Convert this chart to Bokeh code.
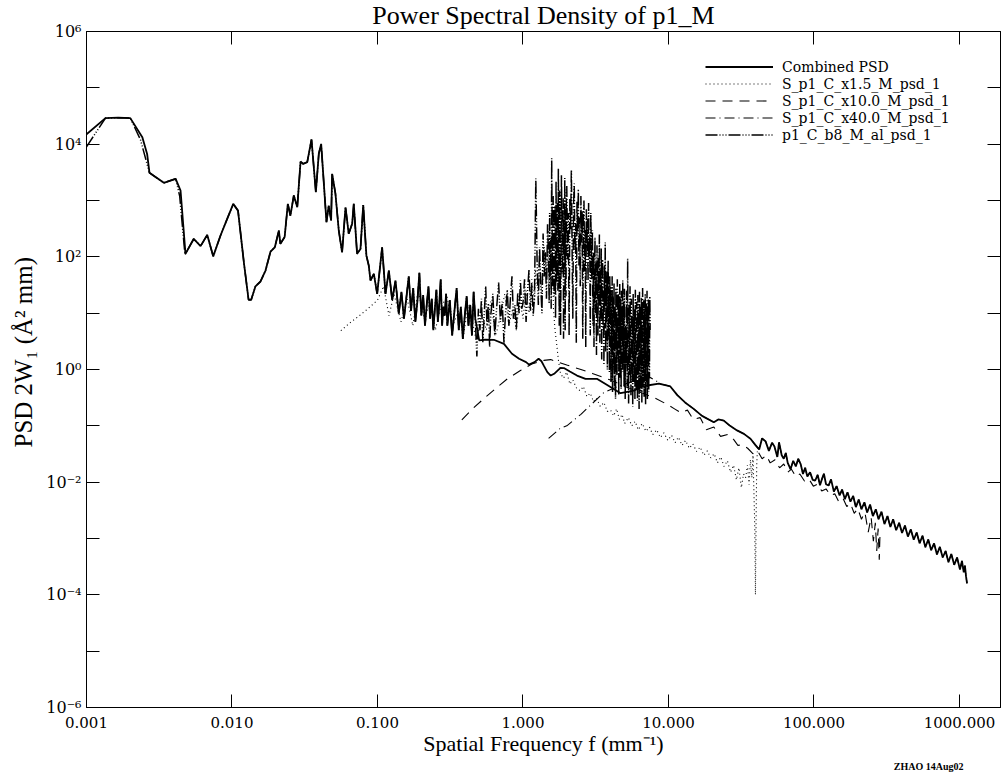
from bokeh.plotting import figure
from bokeh.models import LogAxis, FixedTicker, Legend, LegendItem, Title
from bokeh.embed import file_html
from bokeh.resources import INLINE

# ---------------- data ----------------
x_ticks = [0.001, 0.01, 0.1, 1, 10, 100, 1000]
x_tick_labels = ["0.001", "0.010", "0.100", "1.000", "10.000", "100.000", "1000.000"]
y_ticks = [1e-6, 1e-5, 1e-4, 1e-3, 1e-2, 1e-1, 1e0, 1e1, 1e2, 1e3, 1e4, 1e5, 1e6]
y_tick_labels = ["10⁻⁶", "", "10⁻⁴", "", "10⁻²", "", "10⁰", "", "10²", "", "10⁴", "", "10⁶"]

# p1_C_b8_M_al_psd_1 (long, low-resolution profile)
b8_f = [0.001, 0.00135, 0.00165, 0.002, 0.00235, 0.00255, 0.00271, 0.0034, 0.0041, 0.00437,
        0.00475, 0.00546, 0.00608, 0.00676, 0.00743, 0.00834, 0.00927, 0.0102, 0.011, 0.0121,
        0.0130, 0.01355, 0.0145, 0.0157, 0.0170, 0.0184, 0.0197, 0.0210, 0.0215, 0.0230,
        0.0242, 0.0252, 0.0266, 0.0281, 0.0296, 0.0308, 0.0329, 0.0352, 0.0377, 0.0395,
        0.0410, 0.0446, 0.0462, 0.0480, 0.0488, 0.0514, 0.0542, 0.0571, 0.0603, 0.0634,
        0.0670, 0.0687, 0.0724, 0.0764, 0.0798, 0.0839, 0.0871, 0.0895, 0.0944, 0.0995,
        0.1076, 0.1135, 0.1197, 0.1262, 0.133, 0.140,
        0.146, 0.152, 0.158, 0.164, 0.170, 0.176, 0.182, 0.188, 0.194, 0.200,
        0.206, 0.212, 0.218, 0.224, 0.230, 0.236, 0.242, 0.248, 0.254, 0.260,
        0.266, 0.272, 0.278, 0.284, 0.290, 0.296,
        0.302, 0.314, 0.326, 0.338, 0.350, 0.362, 0.374, 0.386, 0.398, 0.410,
        0.422, 0.434, 0.446, 0.458, 0.470, 0.482, 0.494, 0.506, 0.518, 0.530,
        0.542, 0.554, 0.566, 0.578, 0.590,
        0.60, 0.62, 0.64, 0.66, 0.68, 0.70, 0.72, 0.74, 0.76, 0.78,
        0.80, 0.82, 0.84, 0.86, 0.88, 0.90, 0.92, 0.94, 0.96, 0.98,
        1.000, 1.025, 1.050, 1.075, 1.100, 1.125, 1.150, 1.175, 1.200, 1.225,
        1.250, 1.275, 1.300, 1.325, 1.350, 1.375, 1.400, 1.425, 1.450, 1.475,
        1.5000, 1.5125, 1.5250, 1.5375, 1.5500, 1.5625, 1.5750, 1.5875, 1.6000, 1.6125,
        1.6250, 1.6375, 1.6500, 1.6625, 1.6750, 1.6875, 1.7000, 1.7125, 1.7250, 1.7375,
        1.7500, 1.7625, 1.7750, 1.7875, 1.8000, 1.8125, 1.8250, 1.8375, 1.8500, 1.8625,
        1.8750, 1.8875, 1.9000, 1.9125, 1.9250, 1.9375, 1.9500, 1.9625, 1.9750, 1.9875,
        2.000, 2.025, 2.050, 2.075, 2.100, 2.125, 2.150, 2.175, 2.200, 2.225,
        2.250, 2.275, 2.300, 2.325, 2.350, 2.375, 2.400, 2.425, 2.450, 2.475,
        2.500, 2.525, 2.550, 2.575, 2.600, 2.625, 2.650, 2.675, 2.700, 2.725,
        2.750, 2.775, 2.800, 2.825, 2.850, 2.875, 2.900, 2.925, 2.950, 2.975,
        3.000, 3.025, 3.050, 3.075, 3.100, 3.125, 3.150, 3.175, 3.200, 3.225,
        3.250, 3.275, 3.300, 3.325, 3.350, 3.375, 3.400, 3.425, 3.450, 3.475,
        3.500, 3.525, 3.550, 3.575, 3.600, 3.625, 3.650, 3.675, 3.700, 3.725,
        3.750, 3.775, 3.800, 3.825, 3.850, 3.875, 3.900, 3.925, 3.950, 3.975,
        4.000, 4.025, 4.050, 4.075, 4.100, 4.125, 4.150, 4.175, 4.200, 4.225,
        4.250, 4.275, 4.300, 4.325, 4.350, 4.375, 4.400, 4.425, 4.450, 4.475,
        4.500, 4.525, 4.550, 4.575, 4.600, 4.625, 4.650, 4.675, 4.700, 4.725,
        4.750, 4.775, 4.800, 4.825, 4.850, 4.875, 4.900, 4.925, 4.950, 4.975,
        5.00, 5.04, 5.08, 5.12, 5.16, 5.20, 5.24, 5.28, 5.32, 5.36,
        5.40, 5.44, 5.48, 5.52, 5.56, 5.60, 5.64, 5.68, 5.72, 5.76,
        5.80, 5.84, 5.88, 5.92, 5.96, 6.00, 6.04, 6.08, 6.12, 6.16,
        6.20, 6.24, 6.28, 6.32, 6.36, 6.40, 6.44, 6.48, 6.52, 6.56,
        6.60, 6.64, 6.68, 6.72, 6.76, 6.80, 6.84, 6.88, 6.92, 6.96,
        7.00, 7.04, 7.08, 7.12, 7.16, 7.20, 7.24, 7.28, 7.32, 7.36,
        7.40, 7.44, 7.48]
b8_psd = [9000, 29000, 29500, 29000, 12000, 5500, 3100, 2060, 2430, 1200,
          110, 209, 155, 245, 102, 239, 473, 871, 661, 75,
          17.3, 17.3, 30, 36.5, 57, 124, 148, 293, 170, 224,
          871, 537, 1230, 759, 4920, 4470, 4790, 12100, 1400, 6760,
          10100, 412, 813, 442, 2980, 1320, 293, 120, 759, 257,
          389, 871, 113, 138, 832, 105, 70, 38, 50, 22,
          148, 22, 57, 17, 38, 9.8,
          24, 8, 19, 45, 11, 28, 7, 16, 52, 9,
          21, 6, 14, 30, 8, 18, 5, 12, 26, 7,
          15, 40, 6, 13, 9, 22,
          6, 17, 4, 11, 28, 5, 13, 3.5, 9, 20,
          6, 14, 4, 24, 8, 1.7, 12, 5, 18, 3,
          10, 30, 6, 15, 2.5,
          9, 22, 4, 13, 35, 7, 16, 3, 11, 26,
          6, 19, 45, 8, 14, 5, 23, 10, 38, 12,
          15, 40, 7, 25, 60, 11, 33, 9, 20, 2450,
          85, 14, 150, 30, 10, 260, 45, 120, 18, 380,
          90, 15, 600, 40, 200, 12, 5600, 250, 30, 1200,
          60, 20, 800, 180, 8, 2200, 35, 300, 900, 25,
          3700, 150, 6, 1500, 400, 4, 70, 2800, 600, 50,
          220, 1100, 3.5, 450, 90, 2500, 5, 700, 20, 1300,
          1800, 90, 600, 4, 1100, 300, 3500, 150, 8, 800,
          2000, 120, 400, 3, 950, 260, 1600, 70, 500, 30,
          1200, 180, 650, 3.5, 400, 1000, 55, 300, 2.5, 700,
          140, 480, 35, 900, 90, 250, 4, 600, 110, 40,
          300, 6, 120, 2.5, 45, 220, 10, 80, 1.8, 160,
          30, 4, 95, 15, 250, 3, 60, 8, 140, 1.5,
          40, 90, 5, 25, 1.2, 70, 12, 180, 2, 35,
          7, 55, 1, 20, 85, 3.5, 30, 0.9, 45, 10,
          30, 0.6, 12, 2, 45, 0.4, 8, 20, 1, 35,
          0.5, 5, 15, 0.3, 28, 3, 10, 0.8, 40, 1.5,
          6, 22, 0.35, 14, 2.5, 33, 0.7, 9, 18, 0.45,
          25, 4, 11, 0.9, 38, 1.2, 7, 16, 0.5, 27,
          20, 0.3, 6, 1.2, 25, 0.5, 93, 2, 0.25, 14,
          0.8, 30, 3, 0.35, 18, 1, 9, 0.22, 22, 0.6,
          4, 12, 0.3, 26, 1.5, 0.45, 16, 5, 0.28, 21,
          0.7, 8, 0.2, 24, 2.5, 0.4, 13, 0.9, 19, 0.26,
          7, 28, 0.5, 3, 17, 0.33, 11, 1.1, 22, 0.24,
          6, 15, 0.6, 25, 0.3, 9, 2, 18, 0.4, 12,
          0.7, 20, 5]

# S_p1_C_x1.5_M_psd_1
x15_f = [0.056, 0.065, 0.075, 0.086, 0.100, 0.110, 0.120, 0.130, 0.145, 0.160,
         0.175, 0.190, 0.210, 0.230, 0.250, 0.270, 0.300, 0.330, 0.360, 0.390,
         0.420, 0.450, 0.480, 0.520, 0.560, 0.600, 0.650, 0.700, 0.750, 0.800,
         0.850, 0.900, 0.950, 1.000, 1.050, 1.100, 1.150, 1.200, 1.220, 1.250,
         1.300, 1.350, 1.400, 1.450, 1.500, 1.550, 1.580, 1.620, 1.660, 1.700,
         1.750, 1.810, 1.900, 2.000, 2.100, 2.200, 2.350, 2.480, 2.600, 2.750,
         2.900, 3.050, 3.200, 3.400, 3.600, 3.800, 4.000, 4.200, 4.400, 4.600,
         4.800, 5.000, 5.300, 5.600, 5.900, 6.200, 6.600, 7.000, 7.400, 7.800,
         8.3, 8.8, 9.3, 9.9, 10.5, 11.1, 11.7, 12.4, 13.1, 13.9,
         14.7, 15.6, 16.5, 17.5, 18.5, 19.5, 20.6, 21.7, 22.9, 24.1,
         25.4, 26.7, 28.0, 29.3, 30.5, 31.7, 32.8, 33.9, 34.9, 35.8,
         36.6, 37.4, 38.1, 38.7, 39.2, 39.6, 40.0, 40.4, 40.8]
x15_psd = [4.9, 6.8, 9.0, 12, 17, 30, 9, 22, 7, 18,
           6, 25, 8, 15, 5, 12, 20, 6, 11, 4,
           14, 7, 3, 10, 5, 16, 4, 9, 22, 6,
           12, 5, 18, 8, 25, 10, 40, 15, 60, 30,
           90, 20, 150, 40, 300, 60, 200, 12, 5, 3,
           1.5, 0.85, 0.7, 0.9, 0.55, 0.65, 0.45, 0.42, 0.5, 0.33,
           0.38, 0.27, 0.31, 0.22, 0.26, 0.18, 0.19, 0.15, 0.2, 0.13,
           0.16, 0.11, 0.14, 0.1, 0.12, 0.085, 0.11, 0.08, 0.095, 0.07,
           0.085, 0.062, 0.075, 0.055, 0.068, 0.05, 0.063, 0.045, 0.055, 0.04,
           0.048, 0.035, 0.042, 0.03, 0.036, 0.027, 0.032, 0.022, 0.028, 0.019,
           0.024, 0.015, 0.02, 0.011, 0.018, 0.008, 0.014, 0.012, 0.02, 0.009,
           0.025, 0.012, 0.03, 0.006, 0.0015, 0.0001, 0.002, 0.02, 0.035]

# S_p1_C_x10.0_M_psd_1
x10_f = [0.38, 0.45, 0.55, 0.65, 0.78, 0.96, 1.15, 1.39, 1.55, 1.75,
         2.0, 2.5, 3.0, 4.0, 5.0, 6.0, 7.0, 8.1, 9.8, 11.0,
         12.2, 13.5, 14.8, 16.5, 18.2, 20.5, 22.8, 25.5, 28.1, 30.0,
         32.0, 35.0, 38.0, 41.0, 44.0, 47.0, 50.0, 54.0, 58.0, 62.0,
         66.0, 70.0, 75.0, 80.0, 86.0, 92.0, 99.0, 106, 113, 121,
         130, 139, 148, 158, 168, 178, 189, 200, 212, 224,
         236, 247, 256, 264, 270, 276, 281, 284]
x10_psd = [0.128, 0.2, 0.32, 0.46, 0.68, 0.96, 1.25, 1.45, 1.5, 1.35,
           1.2, 1.0, 0.85, 0.65, 0.5, 0.42, 0.36, 0.31, 0.24, 0.2,
           0.17, 0.19, 0.13, 0.14, 0.085, 0.095, 0.065, 0.07, 0.057, 0.045,
           0.046, 0.04, 0.032, 0.036, 0.026, 0.03, 0.022, 0.025, 0.018, 0.021,
           0.015, 0.017, 0.0125, 0.014, 0.0105, 0.0115, 0.0085, 0.0092, 0.007, 0.0076,
           0.0058, 0.0062, 0.0045, 0.0052, 0.0037, 0.0042, 0.0028, 0.0034, 0.0022, 0.0029,
           0.0013, 0.0024, 0.0009, 0.0019, 0.0006, 0.0015, 0.00042, 0.0011]

# Combined PSD: its own start, then the smooth/high-frequency part
comb_head_f = [0.001, 0.00135, 0.00165, 0.002, 0.00242, 0.00261, 0.00271, 0.0034, 0.0041, 0.00443, 0.00479]
comb_head_psd = [15000, 29000, 29500, 29000, 13300, 6700, 3100, 2060, 2430, 1500, 113]
comb_tail_f = [0.50, 0.55, 0.63, 0.74, 0.84, 0.94, 1.05, 1.10, 1.20, 1.28,
               1.34, 1.39, 1.47, 1.55, 1.65, 1.81, 1.91, 2.10, 2.35, 2.69,
               3.24, 3.79, 4.20, 4.68, 5.20, 5.78, 6.40, 7.14, 8.59, 9.50,
               10.3, 11.5, 13.0, 14.9, 17.0, 20.5, 22.0, 24.0, 26.5, 29.6,
               33.0, 36.6, 39.5, 42.0, 44.0, 46.5, 49.0, 51.5, 53.5, 56.0,
               57.5, 60.0, 62.0, 64.0, 66.0, 69.0, 72.0, 75.0, 78.0, 81.0,
               84.0, 87.0, 90.0, 94.0, 98.0, 102, 106, 110, 114, 117,
               121, 126, 131, 137, 143, 150, 156, 163, 170, 178,
               186, 194, 203, 212, 222, 232, 243, 254, 266, 278,
               291, 305, 320, 335, 350, 367, 385, 403, 422, 442,
               463, 485, 508, 532, 557, 583, 610, 639, 669, 700,
               733, 767, 803, 840, 879, 920, 963, 1008, 1040, 1070,
               1090, 1110, 1127]
comb_tail_psd = [3.3, 3.4, 3.37, 2.85, 1.9, 1.55, 1.35, 1.22, 1.35, 1.55,
                 1.4, 1.17, 0.9, 0.78, 0.85, 1.07, 1.06, 0.92, 0.78, 0.68,
                 0.68, 0.53, 0.45, 0.38, 0.40, 0.42, 0.48, 0.52, 0.56, 0.53,
                 0.50, 0.35, 0.26, 0.20, 0.15, 0.116, 0.13, 0.124, 0.10, 0.083,
                 0.072, 0.059, 0.046, 0.038, 0.06, 0.053, 0.036, 0.05, 0.043, 0.028,
                 0.051, 0.03, 0.026, 0.033, 0.022, 0.017, 0.024, 0.019, 0.026, 0.021,
                 0.014, 0.018, 0.0126, 0.015, 0.011, 0.0107, 0.0135, 0.0088, 0.0118, 0.0141,
                 0.0092, 0.0087, 0.0112, 0.0068, 0.0085, 0.0058, 0.0074, 0.0050, 0.0066, 0.0045,
                 0.0057, 0.0036, 0.0049, 0.0033, 0.0044, 0.0029, 0.0040, 0.0025, 0.0033, 0.0022,
                 0.0030, 0.0018, 0.0025, 0.0016, 0.0022, 0.0014, 0.0019, 0.00125, 0.0017, 0.00108,
                 0.00145, 0.00095, 0.00128, 0.00082, 0.00112, 0.00070, 0.00096, 0.00062, 0.00082, 0.00052,
                 0.00071, 0.00046, 0.00060, 0.00038, 0.00053, 0.00034, 0.00046, 0.00028, 0.00040, 0.00025,
                 0.00033, 0.00021, 0.00016]

# S_p1_C_x40.0_M_psd_1 : rising start, then runs under the combined curve
x40_head_f = [1.5, 1.8, 2.0, 2.5, 3.0, 3.6, 4.5, 5.5, 6.5, 7.5, 8.3]
x40_head_psd = [0.06, 0.09, 0.1, 0.16, 0.25, 0.39, 0.5, 0.6, 0.68, 0.72, 0.62]

# assemble series from the read values
comb_mid = [(f, v) for f, v in zip(b8_f, b8_psd) if 0.005 < f <= 0.47]
comb_f = comb_head_f + [f for f, _ in comb_mid] + comb_tail_f
comb_psd = comb_head_psd + [v for _, v in comb_mid] + comb_tail_psd
x40_tail = [(f, v) for f, v in zip(comb_tail_f, comb_tail_psd) if f >= 8.5]
x40_f = x40_head_f + [f for f, _ in x40_tail]
x40_psd = x40_head_psd + [v for _, v in x40_tail]

# ---------------- figure ----------------
SERIF = "DejaVu Serif"
LABEL_FONT = "Liberation Serif"

p = figure(width=1005, height=775, x_axis_type="log", y_axis_type="log",
           x_range=(0.001, 1914), y_range=(1e-6, 1e6),
           output_backend="svg", toolbar_location=None,
           min_border_left=86, min_border_right=5, min_border_top=31, min_border_bottom=68,
           background_fill_color="white", border_fill_color="white")
p.xgrid.visible = False
p.ygrid.visible = False
p.outline_line_color = "black"
p.outline_line_width = 1

p.title.text = "Power Spectral Density of p1_M"
p.title.align = "center"
p.title.vertical_align = "top"
p.title.text_font = LABEL_FONT
p.title.text_font_style = "normal"
p.title.text_font_size = "26px"
p.title.text_color = "black"
p.title.standoff = 0

r_b8 = p.line(b8_f, b8_psd, line_color="black", line_width=1.5, line_dash="12 2 1 2 1 2 1 2")
r_15 = p.line(x15_f, x15_psd, line_color="black", line_width=1.1, line_dash="1 3")
r_10 = p.line(x10_f, x10_psd, line_color="black", line_width=1.1, line_dash="10 7")
r_40 = p.line(x40_f, x40_psd, line_color="black", line_width=1.1, line_dash="10 4 1 4")
r_c = p.line(comb_f, comb_psd, line_color="black", line_width=1.8)


def style_axis(ax, ticks, labels, size):
    ax.ticker = FixedTicker(ticks=ticks, minor_ticks=[])
    ax.axis_line_color = "black"
    ax.major_tick_line_color = "black"
    ax.major_tick_in = 13
    ax.major_tick_out = 0
    ax.minor_tick_in = 0
    ax.minor_tick_out = 0
    ax.major_label_overrides = {t: l for t, l in zip(ticks, labels)}
    ax.major_label_text_font = SERIF
    ax.major_label_text_font_size = size
    ax.major_label_text_color = "black"


xa = p.xaxis[0]
style_axis(xa, x_ticks, x_tick_labels, "15px")
xa.major_label_standoff = 9
xa.axis_label = "Spatial Frequency f (mm⁻¹)"
xa.axis_label_text_font = LABEL_FONT
xa.axis_label_text_font_style = "normal"
xa.axis_label_text_font_size = "22px"
xa.axis_label_text_color = "black"
xa.axis_label_standoff = 0

ya = p.yaxis[0]
style_axis(ya, y_ticks, y_tick_labels, "16px")
ya.major_label_standoff = 5

top = LogAxis()
style_axis(top, x_ticks, [""] * len(x_ticks), "1px")
top.major_label_standoff = 0
p.add_layout(top, "above")
right = LogAxis()
style_axis(right, y_ticks, [""] * len(y_ticks), "1px")
right.major_label_standoff = 0
p.add_layout(right, "right")

ylab = Title(text="PSD  2W₁ (Å² mm)", align="left", offset=260, standoff=14,
             text_font=LABEL_FONT, text_font_style="normal", text_font_size="25px",
             text_color="black")
p.add_layout(ylab, "left")

stamp = Title(text="ZHAO 14Aug02", align="right", offset=37, standoff=0,
              text_font=LABEL_FONT, text_font_style="bold", text_font_size="10px",
              text_color="black")
p.add_layout(stamp, "below")

legend = Legend(items=[
    LegendItem(label="Combined PSD", renderers=[r_c]),
    LegendItem(label="S_p1_C_x1.5_M_psd_1", renderers=[r_15]),
    LegendItem(label="S_p1_C_x10.0_M_psd_1", renderers=[r_10]),
    LegendItem(label="S_p1_C_x40.0_M_psd_1", renderers=[r_40]),
    LegendItem(label="p1_C_b8_M_al_psd_1", renderers=[r_b8]),
], location=(619, 564))
legend.glyph_width = 68
legend.glyph_height = 17
legend.label_height = 17
legend.spacing = 0
legend.padding = 0
legend.margin = 0
legend.label_standoff = 9
legend.label_text_font = SERIF
legend.label_text_font_size = "14px"
legend.label_text_color = "black"
legend.border_line_alpha = 0
legend.background_fill_alpha = 0
p.add_layout(legend)

open("out.html", "w").write(file_html(p, INLINE))
